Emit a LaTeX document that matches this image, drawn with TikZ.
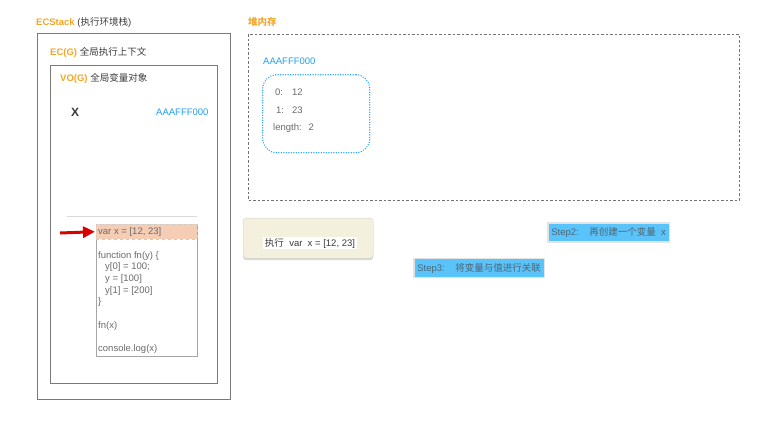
\documentclass[tikz,border=0pt]{standalone}
\usepackage{fontspec}
\setmainfont{Liberation Sans}
\newfontfamily\cjk{Noto Sans CJK SC}
\usetikzlibrary{arrows.meta,shadows}

\definecolor{labelorange}{HTML}{F5A623}
\definecolor{addrblue}{HTML}{1E9FF2}
\definecolor{framegray}{HTML}{7A7A7A}
\definecolor{textgray}{HTML}{3A3A3A}
\definecolor{codegray}{HTML}{6A6A6A}
\definecolor{hilite}{HTML}{F5CDB4}
\definecolor{stepblue}{HTML}{5AC3FA}
\definecolor{steptext}{HTML}{4E6574}
\definecolor{paper}{HTML}{F4F0DE}

\tikzset{
  frame/.style={draw=framegray, line width=0.9pt},
  title/.style={anchor=west, inner sep=0pt, text=textgray},
  addr/.style={anchor=west, inner sep=0pt, text=addrblue},
  stepbox/.style={fill=stepblue, draw=gray!22, line width=1.8pt, inner xsep=3.5pt,
    text=steptext, anchor=west, minimum height=19pt}
}

\begin{document}
\begin{tikzpicture}[x=1pt, y=-1pt, font=\fontsize{9.5}{11.7}\selectfont]
      \useasboundingbox (0,0) rectangle (769,424);
      % execution stack
      \node[title] (ecstackTitle) at (36,22) {\textcolor{labelorange}{\textbf{ECStack}} ({\cjk 执行环境栈})};
      \draw[frame] (37,33) rectangle (230,399);
      \node[title] (ecgTitle) at (50,52) {\textcolor{labelorange}{\textbf{EC(G)}} {\cjk 全局执行上下文}};
      \draw[frame] (50,65) rectangle (217,383);
      \node[title] (vogTitle) at (60,78) {\textcolor{labelorange}{\textbf{VO(G)}} {\cjk 全局变量对象}};
      \node[title, font=\fontsize{12}{14}\selectfont\bfseries] (varX) at (71,112) {X};
      \node[addr] (varXAddr) at (156,112) {AAAFFF000};
      \draw[gray!30] (67,216) -- (197,216);
      % code
      \draw[frame, draw=gray!70, line width=0.7pt] (96,224) rectangle (197,356);
      \node[draw=gray!40, dashed, fill=hilite, minimum width=101pt, minimum height=15pt,
        anchor=north west, inner sep=0pt] (codeHi) at (96,224) {};
      \node[anchor=north west, inner sep=0pt, align=left, text=codegray] (code) at (98,227)
        {var x = [12, 23]\\ ~\\[0.6pt] function fn(y) \{\\ \hspace{7pt}y[0] = 100;\\ \hspace{7pt}y = [100]\\
         \hspace{7pt}y[1] = [200]\\ \}\\ ~\\ fn(x)\\ ~\\ console.log(x)};
      \coordinate (arrowTail) at (60,233);
      \draw[red!85!black, line width=3pt, -{Triangle[length=12pt,width=11pt]}] (arrowTail) -- ([xshift=-1pt]codeHi.west);
      % heap
      \node[title, font=\fontsize{9.5}{11.7}\selectfont\cjk\bfseries, text=labelorange] (heapTitle) at (248,22) {堆内存};
      \draw[draw=gray!90!black, line width=0.9pt, dash pattern=on 2.5pt off 2pt] (248,34) rectangle (739,200);
      \node[addr] (heapAddr) at (263,61) {AAAFFF000};
      \node[draw=addrblue, line width=1.4pt, dash pattern=on 0.1pt off 2.4pt, line cap=round,
        rounded corners=14pt, minimum width=107pt, minimum height=78pt, anchor=north west] (heapObj) at (262,74) {};
      \node[anchor=north west, inner sep=0pt, text=codegray, align=left,
        font=\fontsize{9.5}{17.2}\selectfont] (heapItems) at (273,89)
        {\hspace{2pt}0:\hspace{9pt}12\\ \hspace{3pt}1:\hspace{8pt}23\\ length:\hspace{7pt}2};
      % note
      \node[fill=paper, draw=paper!85!black, line width=0.3pt, rounded corners=3pt,
        drop shadow={opacity=0.3, shadow xshift=0pt, shadow yshift=-2pt},
        minimum width=130pt, minimum height=40pt, anchor=north west] (note) at (243,218) {};
      \node[fill=white, inner sep=1.5pt, text=textgray] (noteText) at (310,243)
        {{\cjk 执行}\ \ var\ \ x = [12, 23]};
      % steps
      \node[stepbox] (step2) at (547,232.5) {Step2:\ \ \ \ {\cjk 再创建一个变量}\ \ x};
      \node[stepbox] (step3) at (413,268) {Step3:\ \ \ \ {\cjk 将变量与值进行关联}};
\end{tikzpicture}
\end{document}
